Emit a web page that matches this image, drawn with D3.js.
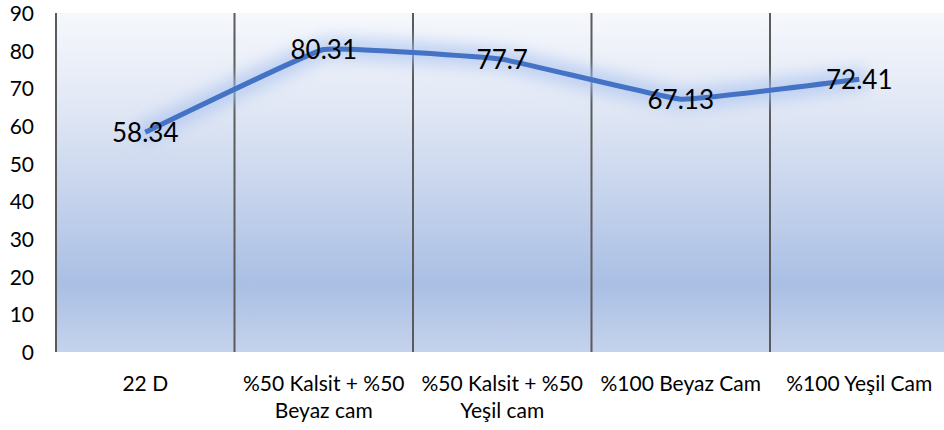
<!DOCTYPE html>
<html>
<head>
<meta charset="utf-8">
<script src="https://cdn.jsdelivr.net/npm/d3@7/dist/d3.min.js"></script>
<style>
  html, body { margin: 0; padding: 0; background: #ffffff; }
  svg { display: block; font-family: Lato, "Open Sans", sans-serif; }
</style>
</head>
<body>
<svg id="chart" width="944" height="430"></svg>
<script>
// Categories (mixes) and measured values
const categories = [
  "22 D",
  "%50 Kalsit + %50 Beyaz cam",
  "%50 Kalsit + %50 Yeşil cam",
  "%100 Beyaz Cam",
  "%100 Yeşil Cam"
];
const values = [58.34, 80.31, 77.7, 67.13, 72.41];
const yTicks = [0, 10, 20, 30, 40, 50, 60, 70, 80, 90];

const svg = d3.select("#chart");
const plot = { left: 56, right: 948.5, top: 13, bottom: 352 };

const x = d3.scaleBand()
  .domain(categories)
  .range([plot.left, plot.right])
  .paddingInner(0).paddingOuter(0);
const y = d3.scaleLinear().domain([0, 90]).range([plot.bottom, plot.top]);

const defs = svg.append("defs");
const grad = defs.append("linearGradient")
  .attr("id", "bg").attr("x1", 0).attr("y1", 0).attr("x2", 0).attr("y2", 1);
grad.append("stop").attr("offset", "0%").attr("stop-color", "#f6f8fc");
grad.append("stop").attr("offset", "30%").attr("stop-color", "#dfe6f4");
grad.append("stop").attr("offset", "80%").attr("stop-color", "#aabfe4");
grad.append("stop").attr("offset", "100%").attr("stop-color", "#c5d3ec");

const glow = defs.append("filter").attr("id", "glow")
  .attr("x", "-20%").attr("y", "-60%").attr("width", "140%").attr("height", "220%");
glow.append("feGaussianBlur").attr("stdDeviation", 8);

// Plot background
svg.append("rect")
  .attr("x", plot.left).attr("y", plot.top)
  .attr("width", plot.right - plot.left).attr("height", plot.bottom - plot.top)
  .attr("fill", "url(#bg)");

// Vertical separators between categories
const edges = categories.map(c => x(c)).concat([x.range()[1]]);
svg.append("g").selectAll("line").data(edges).join("line")
  .attr("x1", d => d).attr("x2", d => d)
  .attr("y1", plot.top).attr("y2", plot.bottom)
  .attr("stroke", "#5b5b5b").attr("stroke-width", 2);

// Y axis labels
const yAxis = d3.axisLeft(y).tickValues(yTicks).tickSize(0).tickPadding(0);
const yg = svg.append("g").attr("transform", "translate(34,0)").call(yAxis);
yg.select(".domain").remove();
yg.selectAll("text")
  .attr("font-family", "Lato, sans-serif").attr("font-size", 21)
  .attr("fill", "#000").attr("dy", "0.35em");

// X axis labels, wrapped inside each band
const xAxis = d3.axisBottom(x).tickSize(0).tickPadding(0);
const xg = svg.append("g").attr("transform", `translate(0,${plot.bottom})`).call(xAxis);
xg.select(".domain").remove();
xg.selectAll("text")
  .attr("font-family", "Lato, sans-serif").attr("font-size", 21)
  .attr("fill", "#000")
  .attr("y", 39).attr("dy", 0)
  .each(function (d) {
    const t = d3.select(this);
    const words = d.split(" ");
    t.text(null);
    let line = [];
    let ln = 0;
    let tspan = t.append("tspan").attr("x", 0).attr("y", 39);
    const maxW = x.bandwidth() - 4;
    words.forEach(w => {
      line.push(w);
      tspan.text(line.join(" "));
      if (tspan.node().getComputedTextLength() > maxW && line.length > 1) {
        line.pop();
        tspan.text(line.join(" "));
        line = [w];
        ln += 1;
        tspan = t.append("tspan").attr("x", 0).attr("y", 39 + ln * 27).text(w);
      }
    });
  });

// Lightly smoothed line with a soft glow behind it
const lineGen = d3.line()
  .x((d, i) => x(categories[i]) + x.bandwidth() / 2)
  .y(d => y(d))
  .curve(d3.curveCardinal.tension(0.75));

svg.append("path")
  .datum(values)
  .attr("d", lineGen)
  .attr("fill", "none")
  .attr("stroke", "#a6c0f0")
  .attr("stroke-width", 20)
  .attr("stroke-opacity", 0.7)
  .attr("stroke-linecap", "round")
  .attr("filter", "url(#glow)");

svg.append("path")
  .datum(values)
  .attr("d", lineGen)
  .attr("fill", "none")
  .attr("stroke", "#4472c4")
  .attr("stroke-width", 5)
  .attr("stroke-linejoin", "round");

// Value labels centred on the points
svg.append("g").selectAll("text").data(values).join("text")
  .attr("x", (d, i) => x(categories[i]) + x.bandwidth() / 2)
  .attr("y", d => y(d))
  .attr("dy", "0.36em")
  .attr("text-anchor", "middle")
  .attr("font-family", "Lato, sans-serif")
  .attr("font-size", 26)
  .attr("fill", "#000")
  .text(d => d);
</script>
</body>
</html>
